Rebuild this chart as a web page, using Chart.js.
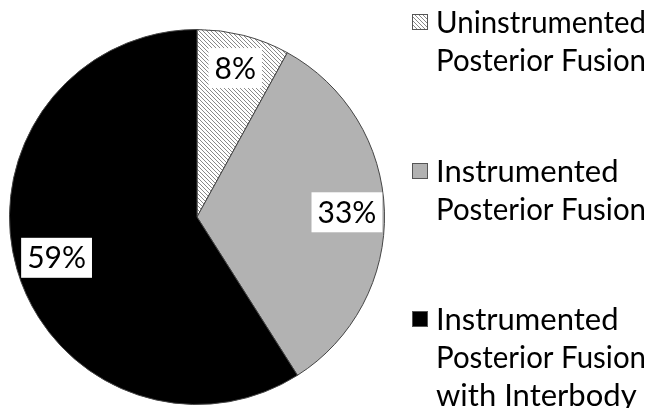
<!DOCTYPE html>
<html>
<head>
<meta charset="utf-8">
<script src="https://cdn.jsdelivr.net/npm/chart.js@4"></script>
<style>
  html, body { margin: 0; padding: 0; background: #fff; }
  #wrap { width: 648px; height: 408px; }
</style>
</head>
<body>
<div id="wrap"><canvas id="graph" width="648" height="408"></canvas></div>
<script>
// chart values
const labels = [
    ['Uninstrumented', 'Posterior Fusion'],
    ['Instrumented', 'Posterior Fusion'],
    ['Instrumented', 'Posterior Fusion', 'with Interbody']
];
const values = [8, 33, 59];
const legendTops = [23, 172, 320]; // y of first legend line
const labelRadius = [0.82, 0.8, 0.78]; // fraction of radius for % boxes

function hatch(){
    const c = document.createElement('canvas');
    c.width = 4; c.height = 4;
    const x = c.getContext('2d');
    x.fillStyle = '#fff';
    x.fillRect(0, 0, 4, 4);
    x.strokeStyle = '#888';
    x.lineWidth = 1;
    x.beginPath();
    x.moveTo(-1, -1); x.lineTo(5, 5);
    x.moveTo(-1, 3); x.lineTo(1, 5);
    x.moveTo(3, -1); x.lineTo(5, 1);
    x.stroke();
    return x.createPattern(c, 'repeat');
}

const FONT = 'Lato, sans-serif';

// percent boxes on the slices
const sliceLabels = {
    id: 'sliceLabels',
    afterDatasetsDraw(chart){
        const ctx = chart.ctx;
        const meta = chart.getDatasetMeta(0);
        ctx.save();
        ctx.font = '30px ' + FONT;
        ctx.textAlign = 'center';
        ctx.textBaseline = 'middle';
        meta.data.forEach((arc, i) => {
            const mid = (arc.startAngle + arc.endAngle) / 2;
            const r = arc.outerRadius * labelRadius[i];
            const x = arc.x + Math.cos(mid) * r;
            const y = arc.y + Math.sin(mid) * r;
            const t = values[i] + '%';
            const w = ctx.measureText(t).width + 12;
            ctx.fillStyle = '#fff';
            ctx.fillRect(x - w / 2, y - 20, w, 40);
            ctx.fillStyle = '#000';
            ctx.fillText(t, x, y + 1);
        });
        ctx.restore();
    }
};

// legend drawn on the right, one box per entry
const sideLegend = {
    id: 'sideLegend',
    afterDraw(chart){
        const ctx = chart.ctx;
        const ds = chart.data.datasets[0];
        ctx.save();
        ctx.font = '31px ' + FONT;
        ctx.textBaseline = 'middle';
        labels.forEach((lines, i) => {
            const top = legendTops[i];
            ctx.fillStyle = ds.backgroundColor[i];
            ctx.fillRect(412, top - 9, 16, 16);
            ctx.strokeStyle = '#555';
            ctx.lineWidth = 1;
            ctx.strokeRect(412.5, top - 8.5, 15, 15);
            ctx.fillStyle = '#000';
            lines.forEach((s, j) => {
                ctx.fillText(s, 436, top + j * 38, 210);
            });
        });
        ctx.restore();
    }
};

new Chart(document.getElementById('graph').getContext('2d'), {
    type: 'pie',
    data: {
        labels: labels,
        datasets: [{
            data: values,
            backgroundColor: [hatch(), '#b2b2b2', '#000'],
            borderColor: '#444',
            borderWidth: 1
        }]
    },
    options: {
        responsive: false,
        animation: false,
        layout: { padding: { left: 9, right: 263, top: 29, bottom: 3 } },
        plugins: {
            legend: { display: false },
            tooltip: { enabled: false }
        }
    },
    plugins: [sliceLabels, sideLegend]
});
</script>
</body>
</html>
